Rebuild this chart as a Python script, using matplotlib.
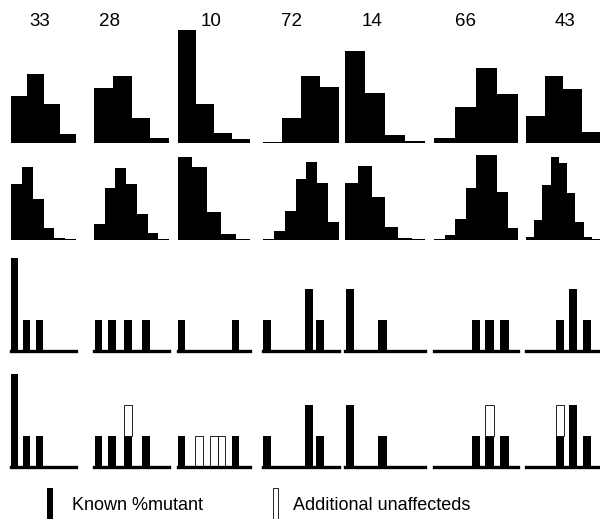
import numpy as np
from matplotlib import pyplot as plt
from matplotlib.patches import Rectangle

plt.rcParams['font.family'] = ['Liberation Sans', 'DejaVu Sans']

# -----------------------
# data
# -----------------------

labels = ['33', '28', '10', '72', '14', '66', '43']

# row 1: coarse distributions (relative frequency, arbitrary units)
coarse = [[47, 69, 39, 9],
          [55, 67, 25, 5],
          [113, 39, 10, 4],
          [1.5, 25, 67, 56],
          [92, 50, 8, 2],
          [5, 36, 75, 49],
          [27, 67, 54, 11]]

# row 2: finer distributions
fine = [[56, 73, 41, 12, 2, 1.5],
        [16, 52, 72, 56, 26, 7, 1.5],
        [83, 73, 28, 6, 1.5],
        [1.5, 9, 29, 61, 78, 57, 18],
        [57, 74, 43, 13, 2, 1.5],
        [1.5, 5, 21, 52, 85, 85, 48, 12],
        [3, 20, 55, 83, 77, 47, 18, 3, 1.5]]

# rows 3/4: known %mutant (position, count)
known_pos = [[5, 24, 44], [6, 24, 45, 69], [5, 80], [5, 60, 75],
             [6, 47], [50, 66, 84], [46, 63, 82]]
known_n = [[3, 1, 1], [1, 1, 1, 1], [1, 1], [1, 2, 1],
           [2, 1], [1, 1, 1], [1, 2, 1]]

# row 4 extra: additional unaffecteds
extra_pos = [[], [45], [29, 50, 60.5], [], [], [66], [46]]
extra_n = [[], [1], [1, 1, 1], [], [], [1], [1]]

# -----------------------
# layout (pixels)
# -----------------------

W, H = 600, 519
cols = [(11, 76), (94, 169), (178, 250), (263, 339),
        (345, 425), (434, 518), (526, 600)]
label_x = [40, 110, 211, 291, 372, 465, 565]

fig = plt.figure(figsize=(W / 100, H / 100), dpi=100)
fig.patch.set_facecolor('white')

def panel(x0, x1, base, height):
    ax = fig.add_axes([x0 / W, (H - base) / H, (x1 - x0) / W, height / H])
    ax.set_axis_off()
    return ax

for i, (x0, x1) in enumerate(cols):
    fig.text(label_x[i] / W, 1 - 21 / H, labels[i], ha='center', va='center',
             fontsize=13.5)

    # row 1
    ax = panel(x0, x1, 143, 125)
    v = coarse[i]
    ax.bar(np.arange(len(v)), v, width=1, align='edge', color='black', lw=0)
    ax.set_xlim(0, len(v))
    ax.set_ylim(0, 125)

    # row 2
    ax = panel(x0, x1, 240, 95)
    v = fine[i]
    ax.bar(np.arange(len(v)), v, width=1, align='edge', color='black', lw=0)
    ax.set_xlim(0, len(v))
    ax.set_ylim(0, 95)

    # rows 3 and 4
    for r, base in enumerate([351, 467]):
        ax = panel(x0, x1, base, 100)
        ax.bar(known_pos[i], known_n[i], width=10.5, color='black', lw=0)
        if r == 1 and extra_pos[i]:
            lookup = dict(zip(known_pos[i], known_n[i]))
            bottoms = [lookup.get(p, 0) for p in extra_pos[i]]
            ax.bar(extra_pos[i], extra_n[i], width=10.5, bottom=bottoms,
                   facecolor='white', edgecolor='black', lw=0.6)
        ax.axhline(0, color='black', lw=2.4, clip_on=False)
        ax.set_xlim(0, 100)
        ax.set_ylim(0, 100 / 31)

# -----------------------
# legend
# -----------------------

lg = fig.add_axes([0, 0, 1, 32 / H])
lg.set_axis_off()
lg.set_xlim(0, W)
lg.set_ylim(0, 32)
lg.add_patch(Rectangle((47, 0), 6, 31, color='black', lw=0))
lg.add_patch(Rectangle((273, 0), 5, 31, facecolor='white',
                       edgecolor='black', lw=0.6))
lg.text(72, 13, 'Known %mutant', fontsize=13, va='center', ha='left')
lg.text(293, 13, 'Additional unaffecteds', fontsize=13, va='center', ha='left')

fig.savefig('out.png', dpi=100)
